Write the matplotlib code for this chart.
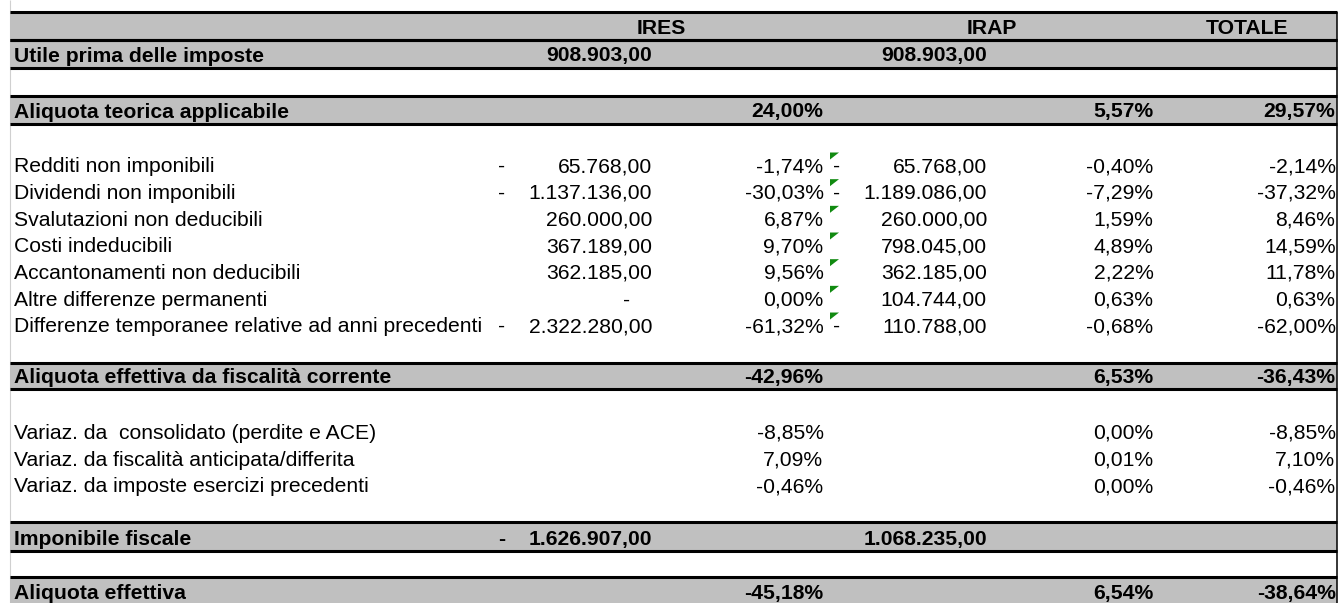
import matplotlib.pyplot as plt
from matplotlib.patches import Rectangle, Polygon

plt.rc('font', family=['Liberation Sans', 'DejaVu Sans'], size=15.2)

# --- data -------------------------------------------------------------
col_titles = ['IRES', 'IRAP', 'TOTALE']

utile_ires = 908903.00
utile_irap = 908903.00

teorica = [24.00, 5.57, 29.57]

voci = ['Redditi non imponibili',
        'Dividendi non imponibili',
        'Svalutazioni non deducibili',
        'Costi indeducibili',
        'Accantonamenti non deducibili',
        'Altre differenze permanenti',
        'Differenze temporanee relative ad anni precedenti']
ires_importi = [-65768, -1137136, 260000, 367189, 362185, 0, -2322280]
ires_perc = [-1.74, -30.03, 6.87, 9.70, 9.56, 0.00, -61.32]
irap_importi = [-65768, -1189086, 260000, 798045, 362185, 104744, -110788]
irap_perc = [-0.40, -7.29, 1.59, 4.89, 2.22, 0.63, -0.68]
tot_perc = [-2.14, -37.32, 8.46, 14.59, 11.78, 0.63, -62.00]

corrente = [-42.96, 6.53, -36.43]

variaz = ['Variaz. da  consolidato (perdite e ACE)',
          'Variaz. da fiscalità anticipata/differita',
          'Variaz. da imposte esercizi precedenti']
variaz_ires = [-8.85, 7.09, -0.46]
variaz_irap = [0.00, 0.01, 0.00]
variaz_tot = [-8.85, 7.10, -0.46]

imponibile_ires = -1626907.00
imponibile_irap = 1068235.00

effettiva = [-45.18, 6.54, -38.64]


def amount(v):
    s = f"{abs(v):,.2f}"
    return s.replace(',', 'X').replace('.', ',').replace('X', '.')


def pct(v):
    return f"{v:.2f}%".replace('.', ',')


# --- layout (pixels) --------------------------------------------------
W, H = 1339, 603
X0, X1 = 10, 1337
heights = [28, 28, 28, 28, 28] + [26.67] * 7 + [24.5, 26.5, 29] + [26.67] * 3 + [24, 28.3, 26.5, 28]
tops = [11.5]
for h in heights:
    tops.append(tops[-1] + h)

LABEL_X = 13.5
IRES_SIGN, IRES_AMT, IRES_ZERO, IRES_PCT = 502, 652, 626.5, 823.5
TRI_X, IRAP_SIGN, IRAP_AMT, IRAP_PCT = 830, 837, 987, 1153.5
TOT_PCT = 1335.5
HEAD_X = [661.5, 991.5, 1247.5]

fig = plt.figure(figsize=(W / 100, H / 100), dpi=100)
ax = fig.add_axes([0, 0, 1, 1])
ax.set_xlim(0, W)
ax.set_ylim(H, 0)
ax.axis('off')


def band(i):
    ax.add_patch(Rectangle((X0, tops[i]), X1 - X0, tops[i + 1] - tops[i],
                           facecolor='#c0c0c0', edgecolor='none', zorder=1))
    ax.hlines([tops[i], tops[i + 1]], X0, X1, color='black', lw=2.2, zorder=2)


def txt(i, x, s, ha='right', bold=False):
    ax.text(x, tops[i + 1] - 6, s, ha=ha, va='baseline', color='black',
            fontweight='bold' if bold else 'normal', zorder=3)


# grid borders
ax.vlines(X0, 0, H, color='#d0d0d0', lw=0.8, zorder=0)
ax.vlines(X1, tops[0], H, color='black', lw=1.1, zorder=2)

for i in [0, 1, 3, 13, 19, 21]:
    band(i)

# header
for x, t in zip(HEAD_X, col_titles):
    txt(0, x, t, ha='center', bold=True)

# utile
txt(1, LABEL_X, 'Utile prima delle imposte', ha='left', bold=True)
txt(1, IRES_AMT, amount(utile_ires), bold=True)
txt(1, IRAP_AMT, amount(utile_irap), bold=True)

# aliquota teorica
txt(3, LABEL_X, 'Aliquota teorica applicabile', ha='left', bold=True)
for x, v in zip([IRES_PCT, IRAP_PCT, TOT_PCT], teorica):
    txt(3, x, pct(v), bold=True)

# permanent / temporary differences
for k, lab in enumerate(voci):
    i = 5 + k
    txt(i, LABEL_X, lab, ha='left')
    a = ires_importi[k]
    if a == 0:
        txt(i, IRES_ZERO, '-', ha='center')
    else:
        if a < 0:
            txt(i, IRES_SIGN, '-', ha='center')
        txt(i, IRES_AMT, amount(a))
    txt(i, IRES_PCT, pct(ires_perc[k]))
    ax.add_patch(Polygon([(TRI_X, tops[i] + 1), (TRI_X + 9, tops[i] + 1), (TRI_X, tops[i] + 8)],
                         closed=True, facecolor='#108a10', edgecolor='none', zorder=3))
    b = irap_importi[k]
    if b < 0:
        txt(i, IRAP_SIGN, '-', ha='center')
    txt(i, IRAP_AMT, amount(b))
    txt(i, IRAP_PCT, pct(irap_perc[k]))
    txt(i, TOT_PCT, pct(tot_perc[k]))

# aliquota corrente
txt(13, LABEL_X, 'Aliquota effettiva da fiscalità corrente', ha='left', bold=True)
for x, v in zip([IRES_PCT, IRAP_PCT, TOT_PCT], corrente):
    txt(13, x, pct(v), bold=True)

# variazioni
for k, lab in enumerate(variaz):
    i = 15 + k
    txt(i, LABEL_X, lab, ha='left')
    txt(i, IRES_PCT, pct(variaz_ires[k]))
    txt(i, IRAP_PCT, pct(variaz_irap[k]))
    txt(i, TOT_PCT, pct(variaz_tot[k]))

# imponibile
txt(19, LABEL_X, 'Imponibile fiscale', ha='left', bold=True)
if imponibile_ires < 0:
    txt(19, IRES_SIGN, '-', ha='center', bold=True)
txt(19, IRES_AMT, amount(imponibile_ires), bold=True)
txt(19, IRAP_AMT, amount(imponibile_irap), bold=True)

# aliquota effettiva
txt(21, LABEL_X, 'Aliquota effettiva', ha='left', bold=True)
for x, v in zip([IRES_PCT, IRAP_PCT, TOT_PCT], effettiva):
    txt(21, x, pct(v), bold=True)

fig.savefig('out.png', dpi=100)
